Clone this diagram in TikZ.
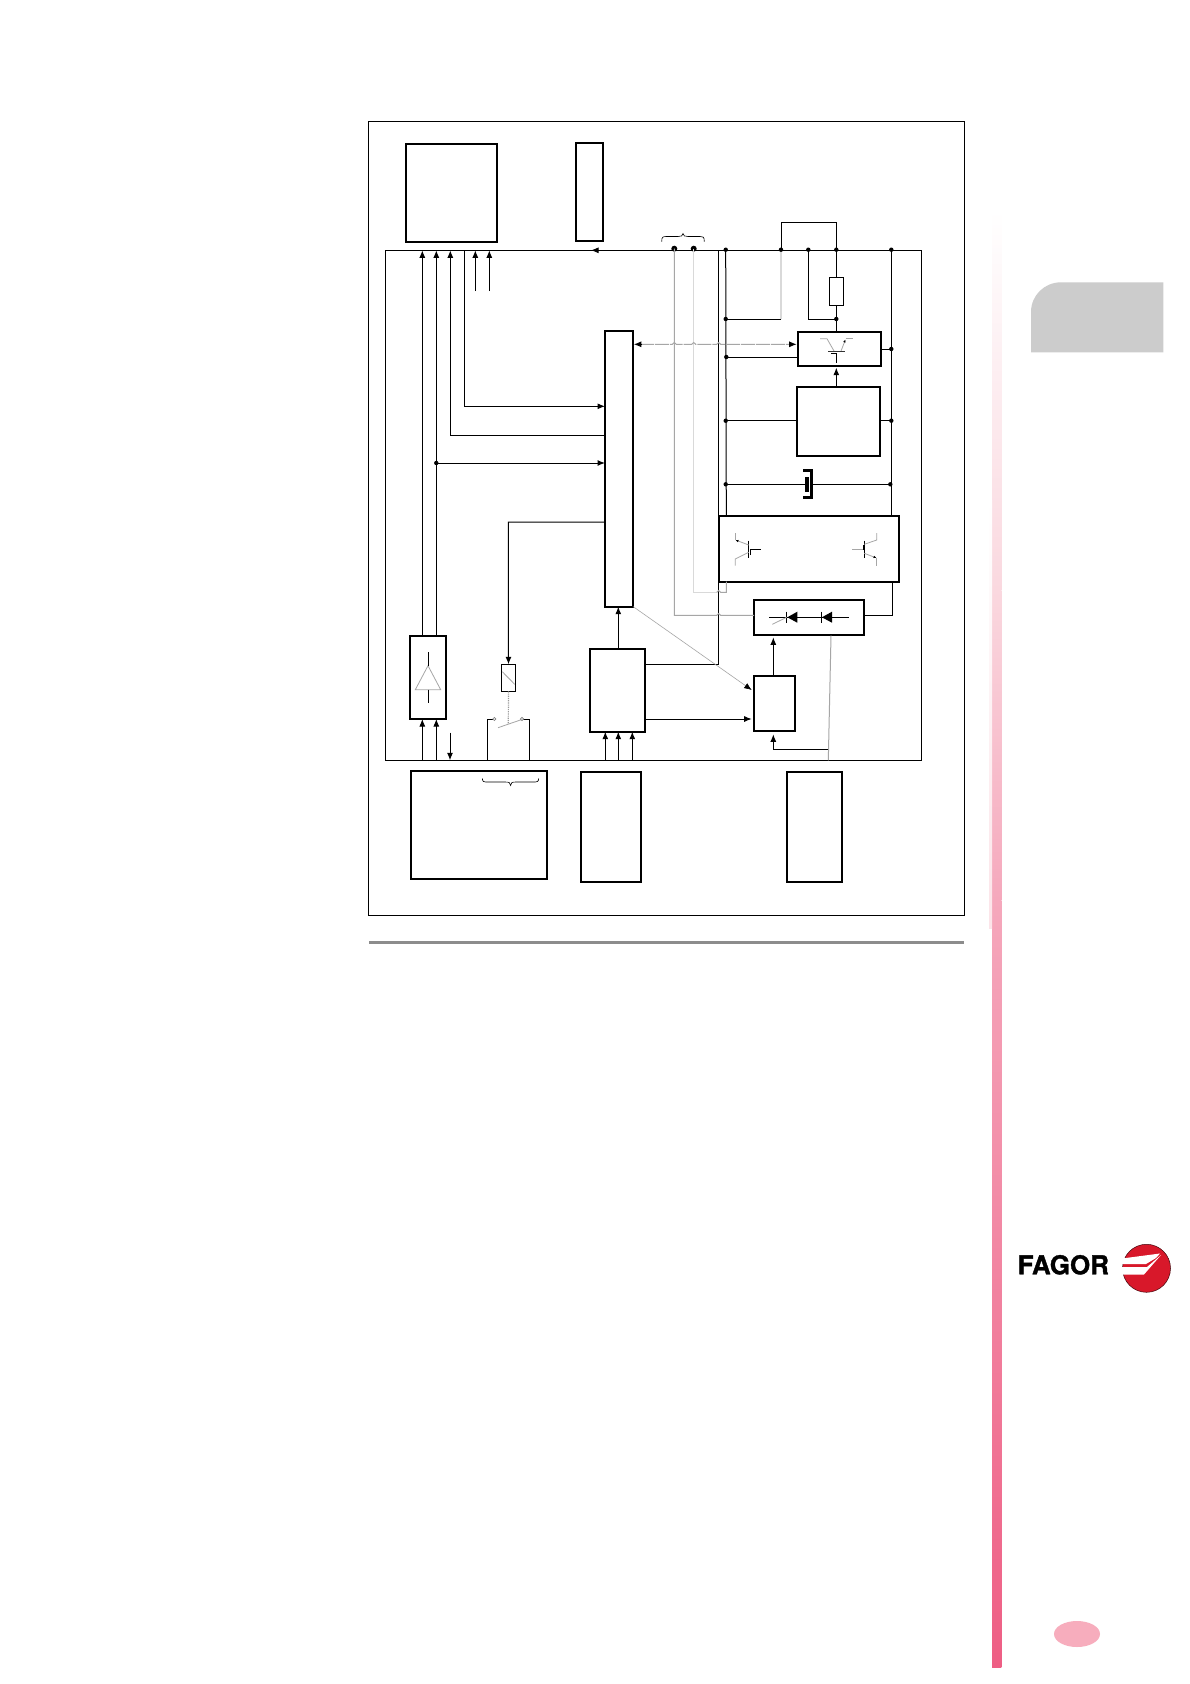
\documentclass[tikz,border=0pt]{standalone}
\usepackage{fontspec}
\setmainfont{TeX Gyre Heros}
\usetikzlibrary{arrows.meta,calc,shapes.geometric}
\definecolor{pinkA}{HTML}{FAD8DF}
\definecolor{pinkB}{HTML}{F5A8BC}
\definecolor{pinkC}{HTML}{EE5E84}
\definecolor{logored}{HTML}{D8182A}
\tikzset{
  wire/.style={line width=1pt,black},
  arr/.style={wire,-{Latex[length=7.5pt,width=6pt]}},
  frm/.style={draw=black,line width=1pt,inner sep=0pt,outer sep=0pt},
  bbox/.style={draw=black,line width=2pt,inner sep=0pt,outer sep=0pt},
  tbox/.style={draw=black,line width=1pt,inner sep=0pt,outer sep=0pt},
  gw/.style={line width=1pt,gray!70!white},
  gl/.style={line width=1.3pt,gray!30!white},
  sym/.style={line width=.8pt,gray!70!white},
}
\newcommand{\bx}[6]{%
  \pgfmathsetmacro{\bw}{#5-#3}\pgfmathsetmacro{\bh}{#6-#4}%
  \pgfmathsetmacro{\bcx}{(#3+#5)/2}\pgfmathsetmacro{\bcy}{(#4+#6)/2}%
  \node[#1,minimum width=\bw pt,minimum height=\bh pt] (#2) at (\bcx,\bcy) {};}
\newcommand{\dotat}[1]{\fill[black] (#1) circle (2.2pt);}
\newcommand{\bigdot}[1]{\fill[black] (#1) circle (3pt);}
\begin{document}
\begin{tikzpicture}[x=1pt,y=-1pt]
\useasboundingbox[fill=white] (0,0) rectangle (1190,1684);
% --- side decoration
\fill[top color=white,bottom color=pinkA] (992,210) rectangle (1001.3,590);
\fill[top color=pinkA,bottom color=pinkB] (992,590) rectangle (1001.3,900);
\fill[top color=pinkB,bottom color=pinkC] (992,900) rectangle (1001.3,1667.7);
\fill[top color=white,bottom color=pinkA!70!white] (989,500) rectangle (992,928);
\fill[gray!40!white] (1031,352.3) -- (1031,312) .. controls (1031,295.4) and (1044.4,282.3) .. (1061,282.3) -- (1163.3,282.3) -- (1163.3,352.3) -- cycle;
\fill[pinkB!80!pink] (1077,1634) ellipse (23pt and 13pt);
\node[inner sep=0pt,anchor=base west,font=\fontsize{26}{26}\selectfont\bfseries\addfontfeatures{FakeBold=1.3}] (logotext) at (1017.5,1274.3) {FAGOR};
\fill[logored] (1146.5,1268.3) circle (24pt);
\draw[line width=.5pt,black!70!logored] (1146.5,1268.3) circle (24pt);
\fill[white] (1122,1258.5) -- (1160,1253.5) -- (1156,1258) -- (1146,1264) -- (1122,1264) -- cycle;
\fill[white] (1122,1267) -- (1147,1267) -- (1161,1255) -- (1144,1274.5) -- (1122,1274.5) -- cycle;
% --- frames
\bx{frm}{outer}{368.5}{121.5}{964}{915}
\bx{frm}{inner}{385.5}{250.3}{921.3}{760.3}
\fill[gray!90!white] (368.5,940.5) rectangle (963.6,944);
% --- boxes
\bx{bbox}{A}{405.7}{143.7}{497}{242}
\bx{bbox}{B}{576}{142.7}{603}{241}
\bx{bbox}{C}{605}{330.7}{633.3}{606.7}
\bx{bbox}{D}{797.7}{332}{881}{365.7}
\bx{bbox}{J}{797}{387}{880}{456}
\bx{bbox}{H}{719}{515.7}{899}{581.7}
\bx{bbox}{G}{754}{599.7}{864}{635}
\bx{bbox}{F}{754}{675.7}{795}{731.3}
\bx{bbox}{E}{590}{648.7}{645}{731.7}
\bx{bbox}{K}{410}{635.7}{446.3}{719}
\bx{bbox}{L}{410.7}{771}{546.7}{878.7}
\bx{bbox}{M}{581}{772}{641}{882}
\bx{bbox}{N}{787}{771.7}{842}{882}
\bx{tbox}{R}{829.3}{277.3}{843.3}{305.3}
\bx{tbox}{S}{501.3}{664.3}{515.7}{691.3}
% --- named points
\foreach \n/\x/\y in {
 xa/422.3/300, xb/436.3/300, xc/450.3/300, xd/464.3/300, xe/475.3/291, xf/489.3/291,
 ya/450.3/435, yb/436.3/463, yc/464.3/406.3, yd/508.3/522,
 p1/674.3/248.7, p2/693.7/248.7,
 t1/725.7/249.7, t2/781/249.7, t3/808.3/249.7, t4/836.3/249.7, t5/891.3/249.7,
 cap2/781/222.3, cap4/836.3/222.3,
 n1/725.7/319, n2/781/319, n3/808.3/319, n4/836.3/319,
 d1/726.3/357, d2/891.3/349, j1/725.7/420.7, j2/891.3/420.7, c1/725.7/484.3, c2/890.3/484.3,
 hl/726.3/515.7, hr/891.3/515.7,
 g1/892.7/581.7, g2/892.7/615.3, g3/864/615.3,
 e1/645/664, e2/718.7/664, e3/718.7/250.3,
 e4/645/719, f1/751.7/719, f2/751.7/690,
 c3/633.3/606.7,
 fa/773.3/675.7, fb/773.3/637.3, fc/773.3/749.3, fd/773.3/734.3, fe/828.3/749.3,
 ga/831/635.5, gb/828.3/760.3,
 u1/836.3/387, u2/836.3/367.7,
 ub/450/732.7, ue/450/760.3,
 st/487.3/760.3, sr/529.3/760.3, s1/487.3/719, s2/529.3/719, so1/494.3/719, so2/522/719,
 w1/498/727.7, w2/523.3/719, w3/508.3/723.3,
 ex/618.3/600, ey/605.3/760.3, ez/632.3/760.3, ew/618.3/760.3
 }{\coordinate (\n) at (\x,\y);}
% --- arrows to A
\draw[arr] (xa |- K.north) -- (xa |- inner.north);
\draw[arr] (xb |- K.north) -- (xb |- inner.north);
\draw[arr] (ya -| C.west) -- (ya) -- (xc |- inner.north);
\draw[arr] (xe) -- (xe |- inner.north);
\draw[arr] (xf) -- (xf |- inner.north);
\draw[arr] (xd |- inner.north) -- (yc) -- (yc -| C.west);
\draw[arr] (yb) -- (yb -| C.west);
\dotat{yb}
% --- K inputs
\draw[arr] (xa |- inner.south) -- (xa |- K.south);
\draw[arr] (xb |- inner.south) -- (xb |- K.south);
\draw[arr] (ub) -- (ue);
% --- amp symbol
\draw[sym] (428,665.7) -- (415.3,689.7) -- (440.7,689.7) -- cycle;
\draw[wire] (428.3,652.3) -- (428.3,665.7);
\draw[wire] (428.3,689.7) -- (428.3,702.7);
% --- relay
\draw[arr] (yd -| C.west) -- (yd) -- (S.north);
\draw[sym] (502.3,671.7) -- (514.7,684.3);
\draw[densely dotted,line width=1.2pt,gray!80!white] (S.south) -- (w3);
\draw[sym] (w1) -- (w2);
\draw[wire] (st) -- (s1) -- (so1);
\draw[wire] (sr) -- (s2) -- (so2);
\fill[white] (so1) circle (1.6pt); \draw[line width=.6pt,gray] (so1) circle (1.6pt);
\fill[white] (so2) circle (1.6pt); \draw[line width=.6pt,gray] (so2) circle (1.6pt);
% --- E
\draw[arr] (ex |- E.north) -- (ex |- C.south);
\draw[arr] (ey) -- (ey |- E.south);
\draw[arr] (ew) -- (ew |- E.south);
\draw[arr] (ez) -- (ez |- E.south);
\draw[wire] (e1) -- (e2) -- (e3);
\draw[arr] (e4) -- (f1);
\draw[gw,line width=.6pt,-{Latex[length=7.5pt,width=6pt,color=black]}] (c3) -- (f2);
% --- top of the right-hand part
\draw[arr] (p1 |- inner.north) -- (591,250.3);
\bigdot{p1}\bigdot{p2}
\draw[line width=.6pt] (661.7,241.7) .. controls (661.7,236.5) and (663,236.5) .. (667,236.5) -- (678,236.5) .. controls (681,236.5) and (683,236) .. (683,233.5) .. controls (683,236) and (685,236.5) .. (688,236.5) -- (700,236.5) .. controls (703,236.5) and (704.3,236.5) .. (704.3,241.7);
\draw[line width=.6pt] (482.3,778.3) .. controls (482.3,782) and (484,782) .. (488,782) -- (505,782) .. controls (509,782) and (510.6,782.5) .. (510.6,785.5) .. controls (510.6,782.5) and (512,782) .. (516,782) -- (533,782) .. controls (537,782) and (538.7,782) .. (538.7,778.3);
\draw[wire] (t2) -- (cap2) -- (cap4) -- (t4);
\draw[wire] (t1) -- (hl);
\draw[wire] (t5) -- (hr);
\draw[wire] (t4) -- (R.north);
\draw[wire] (R.south) -- (n4) -- (n4 |- D.north);
\draw[wire] (t3) -- (n3) -- (n4);
\draw[gl] (t2) -- (n2);
\draw[wire] (n2) -- (n1);
\draw[wire] (d1) -- (d1 -| D.west);
\draw[wire] (d2 -| D.east) -- (d2);
\draw[wire] (j1) -- (j1 -| J.west);
\draw[wire] (j2 -| J.east) -- (j2);
\draw[arr] (u1) -- (u2);
\draw[wire] (c1) -- (805,484.3);
\fill[black] (805.2,477) rectangle (809,492);
\draw[line width=2.5pt] (803.3,470.7) -- (811.7,470.7) -- (811.7,497.3) -- (803.3,497.3);
\draw[wire] (811.7,484.3) -- (c2);
\foreach \q in {t1,t2,t3,t4,t5,n1,n4,d1,d2,j1,j2,c1,c2} {\dotat{\q}}
% --- grey signal pair
\draw[gw] (p1) -- (674.3,615.3) -- (716.7,615.3) .. controls (717.7,613) and (719.7,613) .. (720.7,615.3) -- (G.west |- g3);
\draw[gl] (p2) -- (693.7,592.3) -- (716.7,592.3);
\draw[gw] (716.7,592.3) .. controls (717.7,590) and (719.7,590) .. (720.7,592.3) -- (726.3,592.3) -- (726.3,581.7);
% --- grey double-headed link
\draw[gw,dash pattern=on 14pt off 1pt] (640,344.3) -- (672.3,344.3) .. controls (673.3,342) and (675.3,342) .. (676.3,344.3) -- (691.7,344.3) .. controls (692.7,342) and (694.7,342) .. (695.7,344.3) -- (716.7,344.3) .. controls (717.7,342) and (719.7,342) .. (720.7,344.3) -- (790,344.3);
\draw[arr] (641,344.3) -- (633.8,344.3);
\draw[arr] (789,344.3) -- (796.7,344.3);
% --- opto symbol
\draw[sym] (820,338.7) -- (827,338.7) -- (834,351);
\draw[sym,-{Latex[length=3pt,width=2.5pt,color=black]}] (841,351) -- (845.5,339.5);
\draw[sym] (845.5,338.7) -- (853,338.7);
\draw[line width=.9pt,black!80!white] (828,351) -- (845,351);
\draw[line width=.8pt] (831,353.5) -- (836.3,353.5) -- (836.3,362.5);
% --- H transistors
\draw[wire] (748.7,540.7) -- (748.7,557.7);
\draw[line width=.8pt] (750.7,555) -- (750.7,549.3) -- (760.7,549.3);
\draw[sym,{Latex[length=3pt,width=2.5pt,color=black]}-] (735.5,540) -- (748.7,545);
\draw[sym] (735.3,540) -- (735.3,533);
\draw[sym] (748.7,552.3) -- (735.3,559) -- (735.3,565.7);
\draw[wire] (864.3,540.7) -- (864.3,557.7);
\draw[sym] (852.3,549.3) -- (862.8,549.3);
\draw[line width=.8pt] (863,545) -- (863,550);
\draw[sym] (864.3,544.3) -- (876.7,540) -- (876.7,533);
\draw[sym,-{Latex[length=3pt,width=2.5pt,color=black]}] (864.3,553.3) -- (876.5,558);
\draw[sym] (876.7,558.3) -- (876.7,565.7);
% --- G diodes
\draw[line width=.8pt] (769.3,617.3) -- (848.7,617.3);
\draw[line width=1pt] (786.7,611.7) -- (786.7,622.7);
\fill[black] (787.3,617.3) -- (797.3,611.7) -- (797.3,622.7) -- cycle;
\draw[line width=1pt] (821.3,611.7) -- (821.3,622.7);
\fill[black] (821.9,617.3) -- (832,611.7) -- (832,622.7) -- cycle;
\draw[sym] (772.3,624.3) -- (786.7,617.3);
\draw[wire] (g1) -- (g2) -- (g3);
\draw[arr] (fa) -- (fb);
% --- F feed
\draw[gw] (ga) -- (gb);
\draw[arr] (fe) -- (fc) -- (fd);
\end{tikzpicture}
\end{document}
